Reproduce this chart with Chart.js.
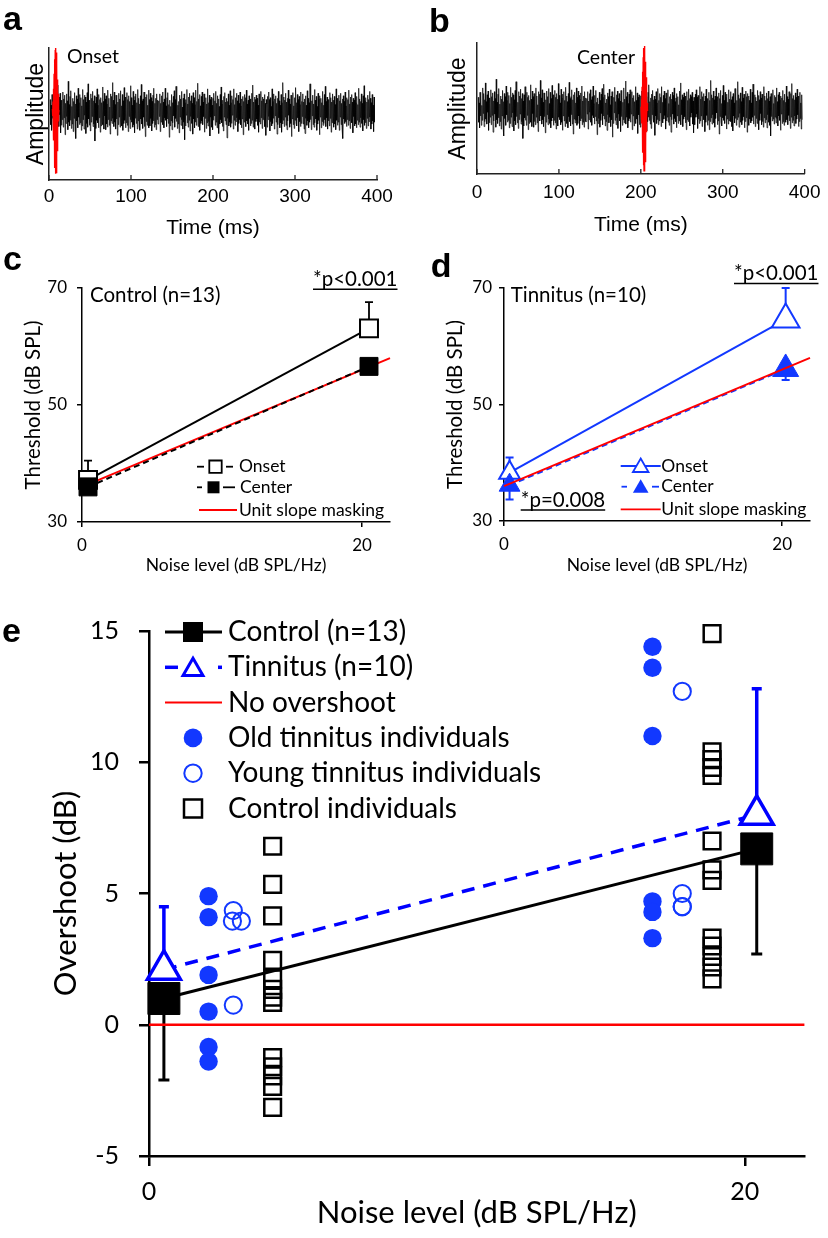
<!DOCTYPE html>
<html>
<head>
<meta charset="utf-8">
<title>Overshoot in tinnitus</title>
<script src="https://cdn.jsdelivr.net/npm/chart.js@4.4.1/dist/chart.umd.min.js"></script>
<style>
  body { margin: 0; width: 828px; height: 1238px; background: #fff; position: relative; overflow: hidden; }
  canvas { position: absolute; }
</style>
</head>
<body>
<canvas id="panelA" width="414" height="245" style="left:0;top:0"></canvas>
<canvas id="panelB" width="414" height="245" style="left:414px;top:0"></canvas>
<canvas id="panelC" width="414" height="345" style="left:0;top:245px"></canvas>
<canvas id="panelD" width="414" height="345" style="left:414px;top:245px"></canvas>
<canvas id="panelE" width="828" height="648" style="left:0;top:590px"></canvas>
<script>
// ---- panels a/b: noise waveform with tone burst ----
const timeTicks = [0, 100, 200, 300, 400];
const noiseStart = 1.5;   // ms
const noiseStep = 0.55;   // ms between samples
const noise = [
  0.18,-0.22,0.09,-0.31,0.26,-0.12,0.21,-0.27,0.05,-0.19,0.33,-0.08,0.24,-0.29,0.14,-0.21,0.41,-0.17,0.11,-0.25,
  0.22,-0.06,0.28,-0.35,0.17,-0.23,0.08,-0.14,0.30,-0.26,0.19,-0.11,0.25,-0.38,0.12,-0.20,0.27,-0.09,0.16,-0.30,
  0.47,-0.18,0.10,-0.24,0.23,-0.15,0.32,-0.28,0.07,-0.21,0.20,-0.33,0.15,-0.12,0.29,-0.25,0.11,-0.44,0.24,-0.16,
  0.19,-0.27,0.36,-0.10,0.13,-0.22,0.26,-0.19,0.21,-0.31,0.08,-0.24,0.34,-0.14,0.18,-0.29,0.25,-0.07,0.22,-0.36,
  0.14,-0.20,0.29,-0.26,0.43,-0.13,0.17,-0.23,0.10,-0.32,0.27,-0.18,0.20,-0.09,0.31,-0.25,0.16,-0.21,0.24,-0.48,
  0.12,-0.28,0.22,-0.15,0.35,-0.19,0.09,-0.27,0.26,-0.11,0.18,-0.34,0.21,-0.24,0.13,-0.17,0.38,-0.22,0.15,-0.29,
  0.28,-0.08,0.19,-0.30,0.24,-0.21,0.11,-0.26,0.33,-0.14,0.20,-0.23,0.06,-0.37,0.27,-0.16,0.23,-0.20,0.45,-0.12,
  0.17,-0.25,0.30,-0.18,0.10,-0.29,0.25,-0.13,0.21,-0.39,0.14,-0.22,0.28,-0.10,0.19,-0.26,0.32,-0.17,0.08,-0.24,
  0.26,-0.31,0.16,-0.20,0.37,-0.15,0.22,-0.27,0.12,-0.19,0.29,-0.23,0.18,-0.33,0.24,-0.09,0.15,-0.28,0.40,-0.14,
  0.21,-0.18,0.09,-0.26,0.31,-0.22,0.17,-0.35,0.23,-0.12,0.27,-0.20,0.13,-0.29,0.34,-0.16,0.20,-0.24,0.11,-0.31,
  0.24,-0.13,0.42,-0.21,0.16,-0.28,0.19,-0.10,0.30,-0.25,0.14,-0.41,0.22,-0.17,0.26,-0.23,0.09,-0.19,0.33,-0.27,
  0.18,-0.24,0.28,-0.12,0.21,-0.32,0.15,-0.20,0.25,-0.16,0.36,-0.26,0.12,-0.22,0.20,-0.30,0.27,-0.14,0.17,-0.21,
  -0.21,0.16,-0.09,0.27,-0.33,0.12,-0.18,0.24,-0.06,0.30,-0.22,0.14,-0.27,0.19,-0.11,0.36,-0.15,0.08,-0.25,0.21,
  -0.13,0.29,-0.20,0.10,-0.42,0.17,-0.24,0.07,-0.16,0.26,-0.30,0.13,-0.19,0.23,-0.08,0.32,-0.26,0.18,-0.12,0.39,
  -0.17,0.22,-0.28,0.09,-0.21,0.15,-0.35,0.25,-0.10,0.19,-0.23,0.31,-0.14,0.06,-0.29,0.20,-0.18,0.27,-0.46,0.13,
  -0.24,0.18,-0.07,0.34,-0.19,0.11,-0.26,0.22,-0.15,0.28,-0.32,0.16,-0.09,0.24,-0.20,0.12,-0.37,0.29,-0.13,0.21,
  -0.27,0.10,-0.18,0.33,-0.23,0.15,-0.11,0.44,-0.25,0.19,-0.14,0.26,-0.31,0.08,-0.20,0.23,-0.16,0.30,-0.22,0.14,
  -0.09,0.27,-0.34,0.17,-0.12,0.21,-0.28,0.11,-0.19,0.35,-0.24,0.13,-0.17,0.25,-0.40,0.18,-0.10,0.22,-0.26,0.09,
  -0.30,0.20,-0.15,0.28,-0.08,0.16,-0.23,0.31,-0.18,0.12,-0.27,0.24,-0.13,0.19,-0.36,0.07,-0.21,0.26,-0.14,0.38,
  -0.19,0.11,-0.25,0.17,-0.32,0.23,-0.10,0.29,-0.16,0.14,-0.22,0.20,-0.43,0.15,-0.12,0.27,-0.24,0.09,-0.18,0.32,
  -0.26,0.13,-0.20,0.24,-0.07,0.18,-0.29,0.35,-0.15,0.10,-0.23,0.21,-0.17,0.28,-0.11,0.16,-0.33,0.25,-0.20,0.12,
  -0.14,0.30,-0.22,0.08,-0.27,0.19,-0.13,0.23,-0.38,0.15,-0.18,0.26,-0.09,0.21,-0.25,0.33,-0.16,0.11,-0.21,0.17,
  -0.31,0.24,-0.12,0.19,-0.24,0.06,-0.20,0.28,-0.15,0.41,-0.26,0.14,-0.10,0.22,-0.29,0.18,-0.17,0.25,-0.13,0.20,
  -0.23,0.09,-0.34,0.27,-0.18,0.13,-0.21,0.31,-0.11,0.16,-0.28,0.22,-0.14,0.19,-0.07,0.26,-0.25,0.12,-0.39,0.18,
  0.11,-0.26,0.23,-0.14,0.30,-0.09,0.18,-0.32,0.21,-0.17,0.07,-0.24,0.35,-0.20,0.15,-0.12,0.27,-0.29,0.19,-0.08,
  0.24,-0.18,0.12,-0.37,0.20,-0.22,0.31,-0.11,0.16,-0.27,0.09,-0.19,0.26,-0.34,0.13,-0.21,0.45,-0.15,0.22,-0.25,
  0.17,-0.10,0.28,-0.23,0.14,-0.30,0.20,-0.16,0.33,-0.07,0.19,-0.26,0.11,-0.20,0.25,-0.41,0.16,-0.13,0.29,-0.22,
  0.08,-0.28,0.21,-0.15,0.37,-0.19,0.13,-0.24,0.26,-0.11,0.18,-0.33,0.23,-0.17,0.10,-0.25,0.30,-0.20,0.15,-0.09,
  0.27,-0.21,0.14,-0.29,0.19,-0.36,0.24,-0.12,0.09,-0.23,0.32,-0.16,0.20,-0.27,0.13,-0.18,0.43,-0.14,0.22,-0.30,
  0.16,-0.08,0.25,-0.22,0.11,-0.26,0.34,-0.19,0.17,-0.13,0.23,-0.31,0.07,-0.21,0.28,-0.15,0.19,-0.38,0.24,-0.10,
  0.20,-0.27,0.13,-0.17,0.31,-0.23,0.09,-0.20,0.26,-0.14,0.39,-0.25,0.15,-0.11,0.22,-0.29,0.18,-0.16,0.12,-0.24,
  0.29,-0.12,0.21,-0.34,0.14,-0.19,0.27,-0.08,0.17,-0.26,0.23,-0.21,0.10,-0.30,0.35,-0.15,0.20,-0.23,0.13,-0.18,
  0.25,-0.31,0.16,-0.10,0.28,-0.22,0.12,-0.27,0.19,-0.44,0.24,-0.13,0.15,-0.20,0.30,-0.17,0.08,-0.25,0.21,-0.14,
  0.18,-0.23,0.33,-0.16,0.11,-0.28,0.22,-0.12,0.26,-0.19,0.14,-0.35,0.20,-0.09,0.17,-0.24,0.29,-0.21,0.13,-0.27,
  0.23,-0.15,0.10,-0.22,0.36,-0.18,0.19,-0.26,0.15,-0.11,0.27,-0.20,0.12,-0.32,0.24,-0.14,0.40,-0.23,0.16,-0.19,
  0.21,-0.28,0.14,-0.12,0.25,-0.24,0.18,-0.17,0.31,-0.10,0.20,-0.29,0.13,-0.21,0.26,-0.16,0.09,-0.33,0.22,-0.18
];
const toneStep = 0.34;    // ms
const tone = [0.03,-0.08,0.15,-0.24,0.35,-0.47,0.59,-0.71,0.82,-0.91,0.97,-1.0,1.0,-0.98,0.93,-0.85,0.75,-0.63,0.5,-0.38,0.27,-0.17,0.09,-0.04,0.01];
const toneStartOnset = 4.2;
const toneStartCenter = 200.2;

// ---- panels c/d: thresholds ----
const noiseTicks = [0, 20];
const thrTicks = [30, 50, 70];
const ctrlX = [0.43, 20.5];
const ctrlOnset = [37.2, 63.1];
const ctrlOnsetErr = [3.3, 4.5];
const ctrlCenter = [36.0, 56.6];
const tinX = [0.4, 20.25];
const tinOnset = [38.3, 64.6];
const tinOnsetErr = [2.6, 5.4];
const tinCenter = [36.15, 56.1];
const tinCenterErr = [2.45, 1.9];
const unitSlopeX = [0, 22];
const unitSlope = [36, 58];

// ---- panel e: overshoot ----
const overTicks = [-5, 0, 5, 10, 15];
const meanX = [0.5, 20.4];
const ctrlOver = [1.0, 6.7];
const ctrlOverErr = [3.1, 4.0];
const tinOver = [2.1, 8.0];
const tinOverErr = [2.4, 4.8];
const zeroX = [0, 22];
const zeroY = [0, 0];
const oldX = [2.0, 16.9];
const oldLow = [4.9, 4.1, 1.9, 0.5, -0.85, -1.4];
const oldHigh = [14.4, 13.6, 11.0, 4.7, 4.3, 3.3];
const youngLowX = [2.83, 2.8, 3.1, 2.83];
const youngLow = [4.35, 3.95, 3.95, 0.75];
const youngHighX = 17.9;
const youngHigh = [12.7, 5.0, 4.5, 4.5];
const ctrlIndX = [4.15, 18.9];
const ctrlLow = [6.8, 5.35, 4.15, 2.45, 1.75, 1.35, 1.05, 0.85, -1.25, -1.6, -1.95, -2.35, -3.15];
const ctrlHigh = [14.9, 10.4, 10.1, 9.8, 9.5, 7.0, 5.9, 5.5, 3.3, 3.0, 2.6, 2.2, 1.75];

const sans = 'Liberation Sans';
const lato = 'Lato';
const blue = '#1238ff';
const red = '#ff0000';

Chart.defaults.color = '#000';
Chart.defaults.animation = false;
Chart.defaults.events = [];
Chart.defaults.plugins.legend.display = false;
Chart.defaults.plugins.tooltip.enabled = false;

const fixedTicks = (vals) => (scale) => { scale.ticks = vals.map(v => ({ value: v })); };
const pts = (xs, ys) => ys.map((y, i) => ({ x: Array.isArray(xs) ? xs[i] : xs, y }));

function put(ctx, text, x, y, font, align, base) {
  ctx.font = font;
  ctx.fillStyle = '#000';
  ctx.textAlign = align || 'left';
  ctx.textBaseline = base || 'alphabetic';
  ctx.fillText(text, x, y);
}

function underlined(ctx, text, x, y, font, lineY) {
  put(ctx, text, x, y, font);
  const w = ctx.measureText(text).width;
  ctx.strokeStyle = '#000';
  ctx.lineWidth = 1.5;
  ctx.beginPath();
  ctx.moveTo(x, lineY);
  ctx.lineTo(x + w, lineY);
  ctx.stroke();
}

function seg(ctx, x1, x2, y, color, width, dash) {
  ctx.save();
  ctx.strokeStyle = color;
  ctx.lineWidth = width;
  ctx.setLineDash(dash || []);
  ctx.beginPath();
  ctx.moveTo(x1, y);
  ctx.lineTo(x2, y);
  ctx.stroke();
  ctx.restore();
}

// legend marker, same shapes as the chart points
function mark(ctx, style, x, y, r, fill, stroke, lw) {
  ctx.beginPath();
  if (style === 'rect') {
    ctx.rect(x - r, y - r, 2 * r, 2 * r);
  } else if (style === 'circle') {
    ctx.arc(x, y, r, 0, Math.PI * 2);
  } else {
    const s = Math.sin(Math.PI / 3) * r;
    ctx.moveTo(x, y - r);
    ctx.lineTo(x + s, y + r / 2);
    ctx.lineTo(x - s, y + r / 2);
    ctx.closePath();
  }
  if (fill) { ctx.fillStyle = fill; ctx.fill(); }
  if (stroke) { ctx.strokeStyle = stroke; ctx.lineWidth = lw; ctx.stroke(); }
}

function errBars(chart, xs, ys, errs, dir, color, width, cap) {
  const { ctx, scales: { x, y } } = chart;
  ctx.save();
  ctx.strokeStyle = color;
  ctx.lineWidth = width;
  xs.forEach((xv, i) => {
    const px = x.getPixelForValue(xv);
    const p0 = y.getPixelForValue(ys[i]);
    const p1 = y.getPixelForValue(ys[i] + dir * errs[i]);
    ctx.beginPath();
    ctx.moveTo(px, p0);
    ctx.lineTo(px, p1);
    ctx.moveTo(px - cap / 2, p1);
    ctx.lineTo(px + cap / 2, p1);
    ctx.stroke();
  });
  ctx.restore();
}

// ---------- a / b ----------
function wavePanel(id, p) {
  const noiseData = noise.map((v, i) => ({ x: noiseStart + i * noiseStep, y: v }));
  const toneData = tone.map((v, i) => ({ x: p.toneStart + i * toneStep, y: v }));
  new Chart(document.getElementById(id), {
    type: 'scatter',
    data: {
      datasets: [
        { data: toneData, showLine: true, borderColor: red, borderWidth: 1.4, pointRadius: 0, clip: false },
        { data: noiseData, showLine: true, borderColor: '#000', borderWidth: 0.7, pointRadius: 0 }
      ]
    },
    options: {
      responsive: false,
      layout: { padding: { top: p.top, right: p.right, left: 0, bottom: 0 } },
      scales: {
        x: {
          min: 0, max: 400,
          afterBuildTicks: fixedTicks(timeTicks),
          afterFit: s => { s.height = p.xHeight; },
          grid: { display: false, drawTicks: false },
          border: { color: '#222', width: 1.5 },
          ticks: { font: { family: sans, size: 19 }, padding: p.xTickPad },
          title: { display: true, text: 'Time (ms)', font: { family: sans, size: 21 }, padding: { top: 0, bottom: p.xTitlePad } }
        },
        y: {
          min: p.yMin, max: p.yMax,
          afterFit: s => { s.width = p.yWidth; },
          grid: { display: false, drawTicks: false },
          border: { color: '#222', width: 1.5 },
          ticks: { display: false },
          title: { display: true, text: 'Amplitude', font: { family: sans, size: 23 }, padding: { top: p.yTitlePad, bottom: 0 } }
        }
      }
    },
    plugins: [{
      id: 'waveDecor',
      afterDraw(chart) {
        const { ctx, chartArea, scales: { x } } = chart;
        ctx.save();
        ctx.strokeStyle = '#222';
        ctx.lineWidth = 1.3;
        timeTicks.forEach(v => {
          const px = x.getPixelForValue(v);
          ctx.beginPath();
          ctx.moveTo(px, chartArea.bottom);
          ctx.lineTo(px, chartArea.bottom - 5);
          ctx.stroke();
        });
        put(ctx, p.label, p.labelX, p.labelY, '19.5px ' + lato);
        put(ctx, p.letter, p.letterX, p.letterY, 'bold 34px ' + sans);
        ctx.restore();
      }
    }]
  });
}

wavePanel('panelA', {
  toneStart: toneStartOnset, yMin: -1.1, yMax: 1.0,
  top: 48, right: 37, xHeight: 65, yWidth: 49,
  xTickPad: 5.5, xTitlePad: 4.5, yTitlePad: 23,
  label: 'Onset', labelX: 67, labelY: 63,
  letter: 'a', letterX: 3, letterY: 30
});
wavePanel('panelB', {
  toneStart: toneStartCenter, yMin: -1.05, yMax: 1.05,
  top: 43, right: 18, xHeight: 71, yWidth: 63,
  xTickPad: 7.5, xTitlePad: 7.5, yTitlePad: 31,
  label: 'Center', labelX: 163, labelY: 64,
  letter: 'b', letterX: 15, letterY: 32
});

// ---------- c / d ----------
function threshScales(p) {
  return {
    x: {
      min: 0, max: 22,
      afterBuildTicks: fixedTicks(noiseTicks),
      afterFit: s => { s.height = p.xHeight; },
      grid: { drawOnChartArea: false, color: '#000', lineWidth: 1.5, tickLength: 5 },
      border: { color: '#000', width: 1.5 },
      ticks: { font: { family: lato, size: 17 }, padding: 8 },
      title: { display: true, text: 'Noise level (dB SPL/Hz)', font: { family: lato, size: 17.5 }, padding: { top: 0, bottom: 14 } }
    },
    y: {
      min: 30, max: 70,
      afterBuildTicks: fixedTicks(thrTicks),
      afterFit: s => { s.width = p.yWidth; },
      grid: { drawOnChartArea: false, color: '#000', lineWidth: 1.5, tickLength: 5 },
      border: { color: '#000', width: 1.5 },
      ticks: { font: { family: lato, size: 17 }, padding: p.yTickPad },
      title: { display: true, text: 'Threshold (dB SPL)', font: { family: lato, size: 20.5 }, padding: { top: p.yTitlePad, bottom: 0 } }
    }
  };
}

new Chart(document.getElementById('panelC'), {
  type: 'scatter',
  data: {
    datasets: [
      { data: pts(ctrlX, ctrlCenter), showLine: true, borderColor: '#000', borderWidth: 2, borderDash: [6, 4],
        pointStyle: 'rect', pointRadius: 12.7, pointBackgroundColor: '#000', pointBorderColor: '#000', pointBorderWidth: 1, clip: false },
      { data: pts(ctrlX, ctrlOnset), showLine: true, borderColor: '#000', borderWidth: 2,
        pointStyle: 'rect', pointRadius: 12.7, pointBackgroundColor: '#fff', pointBorderColor: '#000', pointBorderWidth: 2, clip: false },
      { data: pts(unitSlopeX, unitSlope), showLine: true, borderColor: red, borderWidth: 2, pointRadius: 0, clip: false }
    ]
  },
  options: {
    responsive: false,
    layout: { padding: { top: 43, right: 24, left: 0, bottom: 0 } },
    scales: threshScales({ xHeight: 68, yWidth: 82, yTickPad: 10, yTitlePad: 21 })
  },
  plugins: [{
    id: 'ctrlDecor',
    beforeDatasetsDraw(chart) {
      errBars(chart, ctrlX, ctrlOnset, ctrlOnsetErr, 1, '#000', 1.8, 8);
    },
    afterDraw(chart) {
      const ctx = chart.ctx;
      ctx.save();
      put(ctx, 'c', 3, 25, 'bold 34px ' + sans);
      put(ctx, 'Control (n=13)', 90, 56.7, '20.5px ' + lato);
      underlined(ctx, '*p<0.001', 313, 41, '20.5px ' + lato, 44.3);
      const f = '17.5px ' + lato;
      seg(ctx, 197, 204, 221.7, '#000', 1.8);
      mark(ctx, 'rect', 215.5, 221.7, 6.2, '#fff', '#000', 1.8);
      seg(ctx, 226, 233, 221.7, '#000', 1.8);
      put(ctx, 'Onset', 239, 221.7, f, 'left', 'middle');
      seg(ctx, 197, 202, 242.3, '#000', 1.8);
      mark(ctx, 'rect', 213.5, 242.3, 6, '#000');
      seg(ctx, 223, 235, 242.3, '#000', 1.8);
      put(ctx, 'Center', 240, 242.3, f, 'left', 'middle');
      seg(ctx, 199, 237, 265, red, 1.8);
      put(ctx, 'Unit slope masking', 239, 265, f, 'left', 'middle');
      ctx.restore();
    }
  }]
});

new Chart(document.getElementById('panelD'), {
  type: 'scatter',
  data: {
    datasets: [
      { data: pts(unitSlopeX, unitSlope), showLine: true, borderColor: red, borderWidth: 2, pointRadius: 0, clip: false },
      { data: pts(tinX, tinCenter), showLine: true, borderColor: blue, borderWidth: 2, borderDash: [6, 4],
        pointStyle: 'triangle', pointRadius: [12, 15], pointBackgroundColor: blue, pointBorderColor: blue, pointBorderWidth: 1, clip: false },
      { data: pts(tinX, tinOnset), showLine: true, borderColor: blue, borderWidth: 2,
        pointStyle: 'triangle', pointRadius: [12, 16], pointBackgroundColor: '#fff', pointBorderColor: blue, pointBorderWidth: 2, clip: false }
    ]
  },
  options: {
    responsive: false,
    layout: { padding: { top: 43, right: 14, left: 0, bottom: 0 } },
    scales: threshScales({ xHeight: 69, yWidth: 90, yTickPad: 7, yTitlePad: 29 })
  },
  plugins: [{
    id: 'tinDecor',
    beforeDatasetsDraw(chart) {
      errBars(chart, tinX, tinOnset, tinOnsetErr, 1, blue, 2, 8);
      errBars(chart, tinX, tinCenter, tinCenterErr, -1, blue, 2, 8);
    },
    afterDraw(chart) {
      const ctx = chart.ctx;
      ctx.save();
      put(ctx, 'd', 16.7, 31.7, 'bold 34px ' + sans);
      put(ctx, 'Tinnitus (n=10)', 96.7, 56.7, '20.5px ' + lato);
      underlined(ctx, '*p<0.001', 320, 35, '20.5px ' + lato, 38.5);
      underlined(ctx, '*p=0.008', 106.7, 261.5, '20.5px ' + lato, 265);
      const f = '17.5px ' + lato;
      seg(ctx, 206.7, 246.7, 221, blue, 1.8);
      mark(ctx, 'tri', 226.7, 222.5, 9, '#fff', blue, 1.8);
      put(ctx, 'Onset', 247.3, 221, f, 'left', 'middle');
      seg(ctx, 207.5, 213, 241.7, blue, 1.8);
      mark(ctx, 'tri', 226.7, 243.2, 9, blue);
      seg(ctx, 238, 245, 241.7, blue, 1.8);
      put(ctx, 'Center', 247.3, 241.7, f, 'left', 'middle');
      seg(ctx, 206.7, 246.7, 264.3, red, 1.8);
      put(ctx, 'Unit slope masking', 247.3, 264.3, f, 'left', 'middle');
      ctx.restore();
    }
  }]
});

// ---------- e ----------
const indSquare = { pointStyle: 'rect', pointRadius: 11.8, pointBackgroundColor: 'rgba(0,0,0,0)', pointBorderColor: '#000', pointBorderWidth: 2.5, showLine: false, clip: false };
const oldDot = { pointStyle: 'circle', pointRadius: 9.2, pointBackgroundColor: blue, pointBorderColor: blue, pointBorderWidth: 0, showLine: false, clip: false };
const youngRing = { pointStyle: 'circle', pointRadius: 8.6, pointBackgroundColor: 'rgba(0,0,0,0)', pointBorderColor: blue, pointBorderWidth: 2, showLine: false, clip: false };

new Chart(document.getElementById('panelE'), {
  type: 'scatter',
  data: {
    datasets: [
      { data: pts(meanX, ctrlOver), showLine: true, borderColor: '#000', borderWidth: 3,
        pointStyle: 'rect', pointRadius: 22.6, pointBackgroundColor: '#000', pointBorderColor: '#000', pointBorderWidth: 1, clip: false },
      { data: pts(meanX, tinOver), showLine: true, borderColor: '#0000ff', borderWidth: 3.5, borderDash: [13, 9],
        pointStyle: 'triangle', pointRadius: 19, pointBackgroundColor: '#fff', pointBorderColor: '#0000ff', pointBorderWidth: 3.5, clip: false },
      { data: pts(ctrlIndX[0], ctrlLow), ...indSquare },
      { data: pts(ctrlIndX[1], ctrlHigh), ...indSquare },
      { data: pts(oldX[0], oldLow), ...oldDot },
      { data: pts(oldX[1], oldHigh), ...oldDot },
      { data: pts(youngLowX, youngLow), ...youngRing },
      { data: pts(youngHighX, youngHigh), ...youngRing },
      { data: pts(zeroX, zeroY), showLine: true, borderColor: red, borderWidth: 2.5, pointRadius: 0, clip: false }
    ]
  },
  options: {
    responsive: false,
    layout: { padding: { top: 41, right: 20, left: 0, bottom: 0 } },
    scales: {
      x: {
        min: 0, max: 22,
        afterBuildTicks: fixedTicks(noiseTicks),
        afterFit: s => { s.height = 82; },
        grid: { drawOnChartArea: false, color: '#000', lineWidth: 2.5, tickLength: 10 },
        border: { color: '#000', width: 2.5 },
        ticks: { font: { family: lato, size: 25 }, padding: 11 },
        title: { display: true, text: 'Noise level (dB SPL/Hz)', font: { family: lato, size: 31 }, padding: { top: 0, bottom: 6 } }
      },
      y: {
        min: -5, max: 15,
        afterBuildTicks: fixedTicks(overTicks),
        afterFit: s => { s.width = 149; },
        grid: { drawOnChartArea: false, color: '#000', lineWidth: 2.5, tickLength: 10 },
        border: { color: '#000', width: 2.5 },
        ticks: { font: { family: lato, size: 25 }, padding: 20 },
        title: { display: true, text: 'Overshoot (dB)', font: { family: lato, size: 31 }, padding: { top: 47, bottom: 0 } }
      }
    }
  },
  plugins: [{
    id: 'overDecor',
    beforeDatasetsDraw(chart) {
      errBars(chart, meanX, ctrlOver, ctrlOverErr, -1, '#000', 3, 11);
      errBars(chart, meanX, tinOver, tinOverErr, 1, '#0000ff', 3.5, 10);
    },
    afterDraw(chart) {
      const ctx = chart.ctx;
      ctx.save();
      put(ctx, 'e', 2, 52, 'bold 34px ' + sans);
      const f = '28px ' + lato;
      const rows = [42, 77.3, 112.6, 147.9, 183.2, 218.5];
      seg(ctx, 165, 222, rows[0], '#000', 3);
      mark(ctx, 'rect', 193, rows[0], 10, '#000');
      put(ctx, 'Control (n=13)', 228, rows[0], f, 'left', 'middle');
      seg(ctx, 165, 178, rows[1], '#0000ff', 3.5);
      seg(ctx, 218, 222, rows[1], '#0000ff', 3.5);
      mark(ctx, 'tri', 193, rows[1] + 2.5, 11.5, '#fff', '#0000ff', 3);
      put(ctx, 'Tinnitus (n=10)', 228, rows[1], f, 'left', 'middle');
      seg(ctx, 165, 222, rows[2], red, 2);
      put(ctx, 'No overshoot', 228, rows[2], f, 'left', 'middle');
      mark(ctx, 'circle', 193, rows[3], 9.3, blue);
      put(ctx, 'Old tinnitus individuals', 228, rows[3], f, 'left', 'middle');
      mark(ctx, 'circle', 193, rows[4], 8.7, null, blue, 2);
      put(ctx, 'Young tinnitus individuals', 228, rows[4], f, 'left', 'middle');
      mark(ctx, 'rect', 193, rows[5], 9, null, '#000', 2.5);
      put(ctx, 'Control individuals', 228, rows[5], f, 'left', 'middle');
      ctx.restore();
    }
  }]
});
</script>
</body>
</html>
